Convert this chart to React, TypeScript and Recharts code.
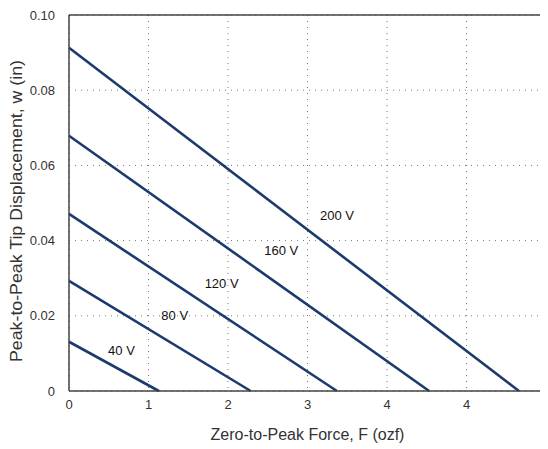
import { LineChart, Line, XAxis, YAxis, CartesianGrid, ReferenceDot } from 'recharts'

// displacement lines: each voltage goes from (0, w0) down to (Fmax, 0)
const voltages = ['40 V', '80 V', '120 V', '160 V', '200 V']
const startDisp = [0.0131, 0.0293, 0.0471, 0.0679, 0.0913]
const endForce = [1.13, 2.285, 3.37, 4.53, 5.66]

// label spots for each voltage
const labelForce = [0.66, 1.33, 1.92, 2.67, 3.37]
const labelDisp = [0.0109, 0.0202, 0.0286, 0.0374, 0.0467]

const xTicks = [0, 1, 2, 3, 4, 5, 6]
const xTickLabels = ['0', '1', '2', '3', '4', '4', '6']
const yTicks = [0, 0.02, 0.04, 0.06, 0.08, 0.1]
const yTickLabels = ['0', '0.02', '0.04', '0.06', '0.08', '0.10']

const X_TITLE = 'Zero-to-Peak Force, F (ozf)'
const Y_TITLE = 'Peak-to-Peak Tip Displacement, w (in)'

const LINE_COLOR = '#1c3a6c'
const FRAME = '#444'
const TEXT = '#333'
const FONT = '"Liberation Sans", Arial, sans-serif'

const series = voltages.map((v, i) => ({
  name: v,
  points: [
    { f: 0, w: startDisp[i] },
    { f: endForce[i], w: 0 },
  ],
}))

export default function App() {
  const tickStyle = { fill: TEXT, fontSize: 13, fontFamily: FONT }
  return (
    <div style={{ width: 540, height: 441, fontFamily: FONT }}>
      <style>{'.recharts-surface{overflow:visible}'}</style>
      <LineChart width={540} height={441} margin={{ top: 7, right: 2, left: 0, bottom: 0 }}>
        <CartesianGrid xAxisId="main" yAxisId="main" stroke="#777" strokeDasharray="1 5" />
        <XAxis
          xAxisId="main"
          dataKey="f"
          type="number"
          domain={[0, 6]}
          ticks={xTicks}
          interval={0}
          tickFormatter={(v: number) => xTickLabels[xTicks.indexOf(v)] ?? ''}
          tick={tickStyle}
          tickLine={false}
          axisLine={{ stroke: FRAME, strokeWidth: 1.5 }}
          height={58}
          tickMargin={3}
          allowDuplicatedCategory={false}
          label={{
            content: () => (
              <text x={299.5} y={432} textAnchor="middle" fill={TEXT} fontSize={16} fontFamily={FONT}>
                {X_TITLE}
              </text>
            ),
          }}
        />
        <XAxis
          xAxisId="inner"
          type="number"
          domain={[0, 6]}
          ticks={xTicks}
          interval={0}
          tickFormatter={() => ''}
          mirror
          tickSize={5}
          tickLine={{ stroke: FRAME }}
          axisLine={false}
        />
        <XAxis
          xAxisId="top"
          orientation="top"
          type="number"
          domain={[0, 6]}
          ticks={xTicks}
          interval={0}
          tickFormatter={() => ''}
          mirror
          tickSize={5}
          tickLine={{ stroke: FRAME }}
          axisLine={{ stroke: FRAME, strokeWidth: 1.5 }}
        />
        <YAxis
          yAxisId="main"
          type="number"
          domain={[0, 0.1]}
          ticks={yTicks}
          interval={0}
          tickFormatter={(v: number) => yTickLabels[yTicks.indexOf(v)] ?? ''}
          tick={tickStyle}
          tickLine={false}
          axisLine={{ stroke: FRAME, strokeWidth: 1.5 }}
          width={61}
          tickMargin={8}
          label={{
            content: () => (
              <text
                x={13.5}
                y={203}
                transform="rotate(-90 13.5 203)"
                textAnchor="middle"
                fill={TEXT}
                fontSize={17}
                fontFamily={FONT}
                textLength={302}
                lengthAdjust="spacingAndGlyphs"
              >
                {Y_TITLE}
              </text>
            ),
          }}
        />
        <YAxis
          yAxisId="right"
          orientation="right"
          type="number"
          domain={[0, 0.1]}
          ticks={yTicks}
          interval={0}
          tickFormatter={() => ''}
          mirror
          tickSize={5}
          tickLine={{ stroke: FRAME }}
          axisLine={{ stroke: FRAME, strokeWidth: 1.5 }}
        />
        {series.map((s) => (
          <Line
            key={s.name}
            xAxisId="main"
            yAxisId="main"
            data={s.points}
            dataKey="w"
            type="linear"
            stroke={LINE_COLOR}
            strokeWidth={2.6}
            dot={false}
            activeDot={false}
            isAnimationActive={false}
          />
        ))}
        {voltages.map((v, i) => (
          <ReferenceDot
            key={v}
            xAxisId="main"
            yAxisId="main"
            x={labelForce[i]}
            y={labelDisp[i]}
            r={0}
            fill="none"
            stroke="none"
            label={{ value: v, position: 'center', fill: '#111', fontSize: 13, fontFamily: FONT }}
          />
        ))}
      </LineChart>
    </div>
  )
}
